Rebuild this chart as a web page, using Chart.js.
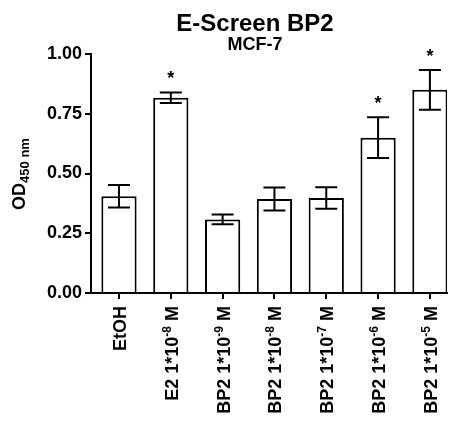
<!DOCTYPE html>
<html>
<head>
<meta charset="utf-8">
<script src="https://cdn.jsdelivr.net/npm/chart.js@4"></script>
<style>
    body { margin: 0; background: #fff; }
    canvas { display: block; }
</style>
</head>
<body>
<canvas id="escreenChart" width="454" height="423"></canvas>
<script>
// Data
const labelMain = ['EtOH', 'E2 1*10', 'BP2 1*10', 'BP2 1*10', 'BP2 1*10', 'BP2 1*10', 'BP2 1*10'];
const labelExp = ['', '-8', '-9', '-8', '-7', '-6', '-5'];
const labelUnit = ['', ' M', ' M', ' M', ' M', ' M', ' M'];
const means = [0.405, 0.817, 0.308, 0.393, 0.397, 0.650, 0.850];
const errors = [0.047, 0.022, 0.020, 0.048, 0.045, 0.085, 0.083];
const significant = [false, true, false, false, false, true, true];
const yTicks = [0, 0.25, 0.5, 0.75, 1.0];

const FONT = "'Liberation Sans', Arial, sans-serif";

function drawLabel(ctx, x, y, main, exp, unit, align) {
    // draws main text with a superscript part, in the current (rotated) frame
    ctx.font = 'bold 18px ' + FONT;
    const w1 = ctx.measureText(main).width;
    const w3 = ctx.measureText(unit).width;
    ctx.font = 'bold 12px ' + FONT;
    const w2 = exp ? ctx.measureText(exp).width : 0;
    const total = w1 + w2 + w3;
    let start = align === 'right' ? x - total : x - total / 2;
    ctx.font = 'bold 18px ' + FONT;
    ctx.fillText(main, start, y);
    ctx.font = 'bold 12px ' + FONT;
    if (exp) ctx.fillText(exp, start + w1, y - 7);
    ctx.font = 'bold 18px ' + FONT;
    ctx.fillText(unit, start + w1 + w2, y);
}

const decorations = {
    id: 'decorations',
    afterDatasetsDraw: function(chart) {
        const ctx = chart.ctx;
        const yScale = chart.scales.y;
        const meta = chart.getDatasetMeta(0);
        ctx.save();
        ctx.strokeStyle = '#000';
        ctx.fillStyle = '#000';
        ctx.lineWidth = 2;
        meta.data.forEach(function(bar, i) {
            const top = yScale.getPixelForValue(means[i] + errors[i]);
            const bottom = yScale.getPixelForValue(means[i] - errors[i]);
            ctx.beginPath();
            ctx.moveTo(bar.x, top);
            ctx.lineTo(bar.x, bottom);
            ctx.moveTo(bar.x - 11, top);
            ctx.lineTo(bar.x + 11, top);
            ctx.moveTo(bar.x - 11, bottom);
            ctx.lineTo(bar.x + 11, bottom);
            ctx.stroke();
            if (significant[i]) {
                ctx.font = 'bold 18px ' + FONT;
                ctx.textAlign = 'center';
                ctx.textBaseline = 'alphabetic';
                ctx.fillText('*', bar.x, top - 8);
            }
        });
        ctx.restore();
    },
    afterDraw: function(chart) {
        const ctx = chart.ctx;
        const xScale = chart.scales.x;
        const xAxisY = chart.chartArea.bottom;
        ctx.save();
        ctx.fillStyle = '#000';
        ctx.textAlign = 'left';
        ctx.textBaseline = 'alphabetic';

        // titles
        ctx.font = 'bold 24px ' + FONT;
        ctx.textAlign = 'center';
        ctx.fillText('E-Screen BP2', 255, 31);
        ctx.font = 'bold 18px ' + FONT;
        ctx.fillText('MCF-7', 255, 50);
        ctx.textAlign = 'left';

        // rotated category labels
        labelMain.forEach(function(main, i) {
            const x = xScale.getPixelForValue(i);
            ctx.save();
            ctx.translate(x + 7, xAxisY + 13);
            ctx.rotate(-Math.PI / 2);
            drawLabel(ctx, 0, 0, main, labelExp[i], labelUnit[i], 'right');
            ctx.restore();
        });

        // y axis title with subscript
        ctx.save();
        ctx.translate(25, 174);
        ctx.rotate(-Math.PI / 2);
        ctx.font = 'bold 18px ' + FONT;
        const wOD = ctx.measureText('OD').width;
        ctx.font = 'bold 13px ' + FONT;
        const wSub = ctx.measureText('450 nm').width;
        const start = -(wOD + wSub) / 2;
        ctx.font = 'bold 18px ' + FONT;
        ctx.fillText('OD', start, 0);
        ctx.font = 'bold 13px ' + FONT;
        ctx.fillText('450 nm', start + wOD, 4);
        ctx.restore();

        ctx.restore();
    }
};

const ctx = document.getElementById('escreenChart').getContext('2d');
new Chart(ctx, {
    type: 'bar',
    data: {
        datasets: [{
            data: means.map(function(v, i) { return { x: i, y: v }; }),
            backgroundColor: '#FFFFFF',
            borderColor: '#000000',
            borderWidth: 2,
            barPercentage: 0.68,
            categoryPercentage: 1
        }]
    },
    options: {
        responsive: false,
        animation: false,
        layout: {
            padding: { top: 54, right: 7, left: 0, bottom: 0 }
        },
        scales: {
            x: {
                type: 'linear',
                offset: false,
                min: -0.54,
                max: 6.33,
                afterBuildTicks: function(scale) {
                    scale.ticks = labelMain.map(function(_, i) { return { value: i }; });
                },
                afterFit: function(scale) {
                    scale.height = 130;
                },
                grid: {
                    offset: false,
                    drawOnChartArea: false,
                    drawTicks: true,
                    tickLength: 6,
                    color: '#000',
                    lineWidth: 2
                },
                border: { display: true, color: '#000', width: 2 },
                ticks: { display: false }
            },
            y: {
                min: 0,
                max: 1,
                afterBuildTicks: function(scale) {
                    scale.ticks = yTicks.map(function(v) { return { value: v }; });
                },
                afterFit: function(scale) {
                    scale.width = 91;
                },
                grid: {
                    drawOnChartArea: false,
                    drawTicks: true,
                    tickLength: 6,
                    color: '#000',
                    lineWidth: 2
                },
                border: { display: true, color: '#000', width: 2 },
                ticks: {
                    color: '#000',
                    padding: 3,
                    font: { family: FONT, size: 18, weight: 'bold' },
                    callback: function(value) {
                        return value.toFixed(2);
                    }
                }
            }
        },
        plugins: {
            legend: { display: false },
            tooltip: { enabled: false }
        }
    },
    plugins: [decorations]
});
</script>
</body>
</html>
